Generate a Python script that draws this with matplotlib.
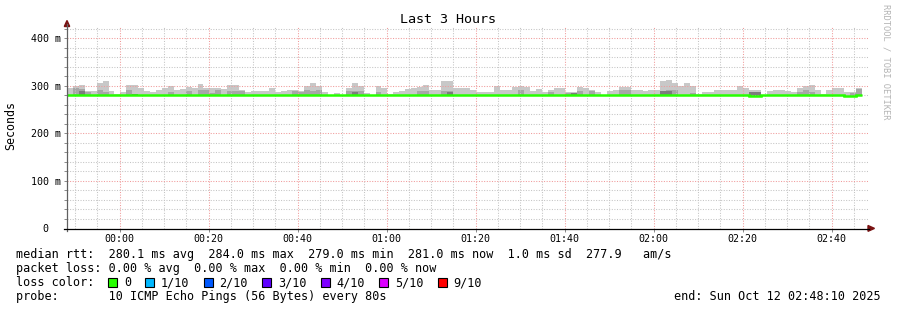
import numpy as np
import matplotlib
matplotlib.use('Agg')
import matplotlib.pyplot as plt
from matplotlib.lines import Line2D
from matplotlib.patches import Rectangle, Polygon
from matplotlib.transforms import blended_transform_factory

# ---------------- data (ms, one value per 80 s step) ----------------
step_min = 80 / 60.0
t_start = -11.8333      # 23:48:10 relative to 00:00, minutes
t_end = 168.1667        # 02:48:10

median = [281.5, 279.5, 279.5, 281.5, 281.5, 281.5, 281.5, 281.5, 281.5, 281.5,
          281.5, 279.5, 279.5, 279.5, 279.5, 279.5, 279.5, 279.5, 279.5, 279.5,
          281.5, 281.5, 281.5, 281.5, 279.5, 279.5, 281.5, 281.5, 281.5, 281.5,
          279.5, 279.5, 279.5, 279.5, 281.5, 281.5, 281.5, 281.5, 281.5, 281.5,
          281.5, 281.5, 281.5, 279.5, 279.5, 279.5, 279.5, 279.5, 279.5, 279.5,
          279.5, 279.5, 279.5, 279.5, 281.5, 281.5, 281.5, 281.5, 281.5, 281.5,
          281.5, 281.5, 281.5, 281.5, 281.5, 281.5, 281.5, 279.5, 279.5, 279.5,
          279.5, 279.5, 279.5, 279.5, 279.5, 279.5, 279.5, 279.5, 279.5, 279.5,
          279.5, 279.5, 279.5, 279.5, 279.5, 281.5, 281.5, 279.5, 279.5, 279.5,
          279.5, 279.5, 279.5, 279.5, 279.5, 281.5, 281.5, 281.5, 281.5, 281.5,
          279.5, 279.5, 279.5, 279.5, 279.5, 279.5, 281.5, 281.5, 281.5, 281.5,
          279.5, 279.5, 279.5, 279.5, 281.5, 279.0, 279.0, 279.5, 279.5, 279.5,
          279.5, 279.5, 279.5, 279.5, 279.5, 279.5, 279.5, 281.5, 281.5, 281.5,
          281.5, 279.0, 279.0, 281.5]

smoke_max = [295, 299.5, 301.5, 290, 289.5, 306.5, 310, 289, 282, 286,
             301.5, 301.5, 294.5, 289, 286, 291, 294.5, 299.5, 291, 292.5,
             298, 294.5, 303.5, 294.5, 294.5, 294.5, 292.5, 301.5, 301.5, 291,
             286.5, 288.5, 288.5, 290, 295.5, 286, 288.5, 292, 292, 288.5,
             299.5, 306.5, 299.5, 287, 280.5, 284, 280.5, 296, 306.5, 299.5,
             285, 280.5, 299.5, 296, 282.5, 287, 289.5, 293, 294.5, 296.5,
             301, 292, 292, 310, 310, 296, 296, 296, 292, 287,
             286, 286, 299.5, 292, 292, 296.5, 300, 296.5, 289.5, 293,
             286, 292, 296, 296, 287, 287, 296.5, 295, 291, 287,
             280.5, 289, 291, 298, 298, 292, 292, 289, 292, 292,
             310, 312, 306, 299.5, 306, 299.5, 282.5, 287, 287, 292,
             292, 291, 292, 299.5, 296, 292, 292, 280.5, 289, 292,
             292, 289, 287, 296, 299.5, 301, 292, 282.5, 292, 296,
             296, 287, 287, 296]

nan = float('nan')
smoke_mid = [nan, 294.5, 292.5, 287.5, nan, 291, 287.5, nan, nan, nan,
             291, 283.5, nan, nan, nan, nan, nan, 287.5, nan, nan,
             289.5, nan, 291, 291, 285.5, 291, nan, 289, 289.5, 288,
             nan, nan, nan, nan, nan, nan, nan, nan, 290, 287,
             291, 288, 291, nan, nan, nan, nan, 288, 289, 289,
             nan, nan, 287, nan, nan, nan, nan, nan, nan, 289,
             289, nan, nan, 290, 288, nan, nan, nan, nan, nan,
             nan, nan, nan, nan, nan, nan, 292, nan, nan, nan,
             nan, 286, nan, nan, 285, 284.5, 289, nan, 289, nan,
             nan, nan, nan, 292, 292, nan, nan, nan, nan, nan,
             290, 292, 291, nan, nan, 285, nan, nan, nan, nan,
             nan, nan, nan, nan, nan, 287, nan, nan, nan, nan,
             nan, nan, nan, 287, 292, 287, nan, nan, nan, nan,
             nan, nan, 284, 294]

smoke_dark = [nan, nan, 290, nan, nan, nan, nan, nan, nan, nan,
              nan, 283.5, nan, nan, nan, nan, nan, nan, nan, nan,
              nan, nan, nan, nan, nan, nan, nan, nan, nan, nan,
              nan, nan, nan, nan, nan, nan, nan, nan, nan, nan,
              nan, nan, nan, nan, nan, nan, nan, nan, 287, nan,
              nan, nan, nan, nan, nan, nan, nan, nan, nan, nan,
              nan, nan, nan, nan, 287, nan, nan, nan, nan, nan,
              nan, nan, nan, nan, nan, nan, nan, nan, nan, nan,
              nan, nan, nan, nan, nan, 284.5, nan, nan, nan, nan,
              nan, nan, nan, nan, nan, nan, nan, nan, nan, nan,
              288, 289, nan, nan, nan, nan, nan, nan, nan, nan,
              nan, nan, nan, nan, nan, 286.5, 286.5, nan, nan, nan,
              nan, nan, nan, nan, nan, nan, nan, nan, nan, nan,
              nan, nan, nan, nan]

x_tick_min = [0, 20, 40, 60, 80, 100, 120, 140, 160]
x_tick_labels = ['00:00', '00:20', '00:40', '01:00', '01:20', '01:40', '02:00', '02:20', '02:40']
y_tick_vals = [0, 100, 200, 300, 400]
y_tick_labels = ['0', '100 m', '200 m', '300 m', '400 m']

rtt_line = "median rtt:  280.1 ms avg  284.0 ms max  279.0 ms min  281.0 ms now  1.0 ms sd  277.9   am/s"
loss_line = "packet loss: 0.00 % avg  0.00 % max  0.00 % min  0.00 % now"
loss_labels = ['0', '1/10', '2/10', '3/10', '4/10', '5/10', '9/10']
loss_colors = ['#26ff00', '#00b8ff', '#0059ff', '#5e00ff', '#7e00ff', '#dd00ff', '#ff0000']
probe_line = "probe:       10 ICMP Echo Pings (56 Bytes) every 80s"
end_text = "end: Sun Oct 12 02:48:10 2025"

# ---------------- figure ----------------
W, H = 897, 310
fig = plt.figure(figsize=(W / 100, H / 100), dpi=100)
fig.patch.set_facecolor('white')
MONO = 'DejaVu Sans Mono'


def fx(x):
    return x / W


def fy(y):
    return 1 - y / H


X0, X1 = 67, 868
Y0, Y1 = 228.5, 26.5
ax = fig.add_axes([fx(X0), fy(Y0), (X1 - X0) / W, (Y0 - Y1) / H])
ax.set_xlim(t_start, t_end)
ax.set_ylim(0, 424.5)
ax.set_facecolor('white')
for s in ax.spines.values():
    s.set_visible(False)

ax.set_xticks(x_tick_min)
ax.set_xticks(np.arange(-10, 168, 5), minor=True)
ax.set_yticks(y_tick_vals)
ax.set_yticks(np.arange(0, 424, 20), minor=True)
ax.grid(which='minor', color='#c4c4c4', linestyle=(0, (1, 1.5)), linewidth=0.75, zorder=2)
ax.grid(which='major', color='#f09a9a', linestyle=(0, (1, 1.5)), linewidth=0.75, zorder=2)
ax.set_axisbelow(False)
ax.tick_params(axis='y', which='both', direction='out', length=2.5, width=0.6, color='#777777',
               labelleft=False)
ax.tick_params(axis='x', which='major', direction='out', length=2.5, width=0.6, color='#777777',
               labelbottom=False)
ax.tick_params(axis='x', which='minor', length=0, labelbottom=False)

# ---------------- smoke & median ----------------
med = np.array(median)
edges = t_start + step_min * np.arange(len(med) + 1)
mx = np.array(smoke_max)
mid = np.array(smoke_mid)
dk = np.array(smoke_dark)
mid = np.where(np.isnan(mid), med, mid)
dk = np.where(np.isnan(dk), med, dk)

ax.stairs(mx, edges, baseline=med, fill=True, color='#c8c8c8', lw=0, zorder=1)
ax.stairs(mid, edges, baseline=med, fill=True, color='#a6a6a6', lw=0, zorder=1.2)
ax.stairs(dk, edges, baseline=med, fill=True, color='#7c7c7c', lw=0, zorder=1.4)
ax.stairs(med, edges, baseline=None, color='#26ff00', lw=1.8, zorder=3)

# ---------------- axes lines & arrows ----------------
fig.add_artist(Line2D([fx(67), fx(67)], [fy(231), fy(24)], color='#606060', lw=0.9))
fig.add_artist(Line2D([fx(64), fx(869)], [fy(228.5), fy(228.5)], color='black', lw=0.9))
fig.add_artist(Polygon([[fx(64.3), fy(26.5)], [fx(69.7), fy(26.5)], [fx(67), fy(20.5)]],
                       closed=True, color='#7a1212'))
fig.add_artist(Polygon([[fx(868), fy(225.5)], [fx(868), fy(231.3)], [fx(874.5), fy(228.4)]],
                       closed=True, color='#7a1212'))

# ---------------- tick labels ----------------
tx = blended_transform_factory(ax.transData, fig.transFigure)
for t, lab in zip(x_tick_min, x_tick_labels):
    ax.text(t, fy(241.5), lab, transform=tx, ha='center', va='baseline',
            family=MONO, fontsize=7.2, color='black')
ty = blended_transform_factory(fig.transFigure, ax.transData)
for v, lab in zip(y_tick_vals, y_tick_labels):
    xr = 60.5 if 'm' in lab else 48.5
    ax.text(fx(xr), v, lab, transform=ty, ha='right', va='center_baseline',
            family=MONO, fontsize=7.2, color='black')

# ---------------- titles ----------------
fig.text(fx(448), fy(19.5), 'Last 3 Hours', ha='center', va='center',
         family=MONO, fontsize=9.6, color='black')
fig.text(fx(11), fy(126), 'Seconds', rotation=90, ha='center', va='center',
         family=MONO, fontsize=8.4, color='black')
fig.text(fx(886), fy(4), 'RRDTOOL / TOBI OETIKER', rotation=270, ha='center', va='top',
         family=MONO, fontsize=6.3, color='#b4b4b4')

# ---------------- legend ----------------
FS = 8.45
fig.text(fx(16), fy(258.3), rtt_line, ha='left', va='baseline', family=MONO, fontsize=FS)
fig.text(fx(16), fy(272.3), loss_line, ha='left', va='baseline', family=MONO, fontsize=FS)
fig.text(fx(16), fy(286.3), 'loss color:', ha='left', va='baseline', family=MONO, fontsize=FS)
sq_x = [108, 145, 203.5, 262, 320.5, 379, 437.5]
for x, lab, c in zip(sq_x, loss_labels, loss_colors):
    fig.add_artist(Rectangle((fx(x), fy(286.5)), 9 / W, 9 / H, facecolor=c,
                             edgecolor='black', lw=0.8))
    fig.text(fx(x + 16), fy(286.3), lab, ha='left', va='baseline', family=MONO, fontsize=FS)
fig.text(fx(16), fy(300.3), probe_line, ha='left', va='baseline', family=MONO, fontsize=FS)
fig.text(fx(881), fy(300.3), end_text, ha='right', va='baseline', family=MONO, fontsize=FS)

fig.savefig('out.png', dpi=100, facecolor='white')
